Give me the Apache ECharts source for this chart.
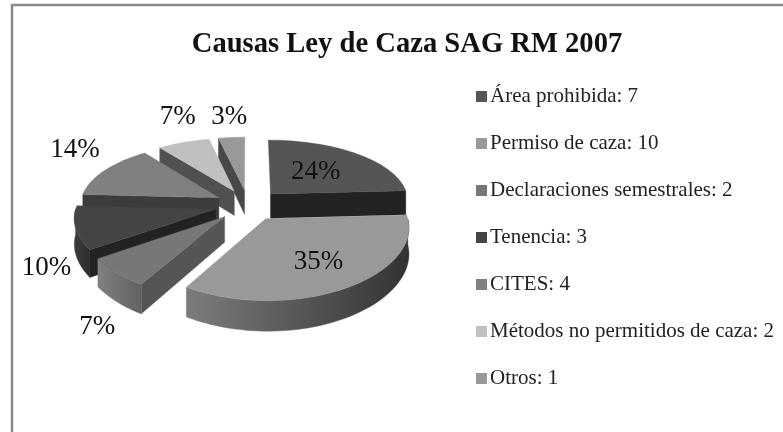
<!DOCTYPE html>
<html>
<head>
<meta charset="utf-8">
<style>
html,body{margin:0;padding:0;background:#fff;}
#c{width:783px;height:432px;filter:blur(0.35px);}
</style>
<script src="https://cdn.jsdelivr.net/npm/echarts@6/dist/echarts.min.js"></script>
</head>
<body>
<div id="c"></div>
<script>
const titleText = 'Causas Ley de Caza SAG RM 2007';
const categories = ['Área prohibida','Permiso de caza','Declaraciones semestrales','Tenencia','CITES','Métodos no permitidos de caza','Otros'];
const values = [7,10,2,3,4,2,1];
const percentLabels = ['24%','35%','7%','10%','14%','7%','3%'];

// styling (not data)
const topColors  = ['#555555','#999999','#777777','#444444','#808080','#c0c0c0','#999999'];
const wallColors = ['#222222','#555555','#555555','#222222','#3c3c3c','#505050','#484848'];
const rimLeft    = ['#222222','#7c7c7c','#808080','#3c3c3c','#3c3c3c','#505050','#484848'];
const rimRight   = ['#222222','#333333','#626262','#2c2c2c','#3c3c3c','#505050','#484848'];
const labelRadius = [0.51,0.66,1.16,1.2,1.28,1.13,1.2];
const labelShiftY = [0,0,44,36,-13,-19.5,-11];

// projection of the tilted pie
const geo = {cx:248, cy:205, R:139, Ry:65, persp:0.15, perspX:0.11, explode:0.24, depth:25};
const total = values.reduce((a,b)=>a+b,0);
const RAD = Math.PI/180;
function project(u,v,drop){
  const w = 1/(1-geo.persp*v);
  const wx = 1/(1-geo.perspX*v);
  return [geo.cx+geo.R*u*wx, geo.cy+geo.Ry*v*w+(drop?geo.depth*w:0)];
}
function piePoint(mid,theta,r,drop){
  const ou = geo.explode*Math.sin(mid*RAD), ov = -geo.explode*Math.cos(mid*RAD);
  return project(ou+r*Math.sin(theta*RAD), ov-r*Math.cos(theta*RAD), drop);
}
function arc(mid,a,b,drop){
  const pts=[], n=Math.max(2,Math.ceil(Math.abs(b-a)/2));
  for(let i=0;i<=n;i++) pts.push(piePoint(mid,a+(b-a)*i/n,1,drop));
  return pts;
}
function renderSlice(params,api){
  const s=api.value(0), e=api.value(1), idx=api.value(2), mid=(s+e)/2;
  const children=[];
  const poly=(points,fill)=>children.push({type:'polygon',shape:{points},style:{fill,stroke:fill,lineWidth:0.4}});
  const wall=(t)=>poly([piePoint(mid,t,0,false),piePoint(mid,t,1,false),piePoint(mid,t,1,true),piePoint(mid,t,0,true)],wallColors[idx]);
  if(Math.sin(s*RAD)<-0.01) wall(s);
  if(Math.sin(e*RAD)>0.01) wall(e);
  const a=Math.max(s,90), b=Math.min(e,270);
  if(b>a){
    const fill=new echarts.graphic.LinearGradient(0,0,1,0,[{offset:0,color:rimLeft[idx]},{offset:1,color:rimRight[idx]}]);
    poly(arc(mid,a,b,false).concat(arc(mid,b,a,true)),fill);
  }
  poly([piePoint(mid,s,0,false)].concat(arc(mid,s,e,false)),topColors[idx]);
  const lp=piePoint(mid,mid,labelRadius[idx],false);
  children.push({type:'text',x:lp[0],y:lp[1]+labelShiftY[idx],style:{
    text:percentLabels[idx],fill:'#111',font:'27px "Liberation Serif"',align:'center',verticalAlign:'middle'}});
  return {type:'group',children};
}
let acc=0;
const series=categories.map((name,i)=>{
  const start=acc/total*360; acc+=values[i]; const end=acc/total*360;
  const mid=(start+end)/2;
  return {type:'custom',name,coordinateSystem:'none',renderItem:renderSlice,
    z:10-10*Math.cos(mid*RAD),silent:true,animation:false,
    itemStyle:{color:topColors[i]},
    encode:{},data:[[start,end,i]]};
});
const chart=echarts.init(document.getElementById('c'),null,{renderer:'canvas'});
chart.setOption({
  animation:false,
  backgroundColor:'#fff',
  title:{text:titleText,left:402,top:25,textAlign:'center',
    textStyle:{fontFamily:'Liberation Serif',fontSize:28.6,fontWeight:'bold',color:'#111'}},
  legend:{orient:'vertical',left:471,top:81,itemWidth:11,itemHeight:11,itemGap:26,icon:'rect',
    data:categories,selectedMode:false,
    formatter:n=>n+': '+values[categories.indexOf(n)],
    textStyle:{fontFamily:'Liberation Serif',fontSize:21,color:'#222',padding:[0,0,0,-2],lineHeight:20}},
  graphic:[{type:'rect',shape:{x:12,y:5,width:900,height:600},
    style:{fill:'none',stroke:'#8a8a8a',lineWidth:2.5},silent:true}],
  series
});
</script>
</body>
</html>
